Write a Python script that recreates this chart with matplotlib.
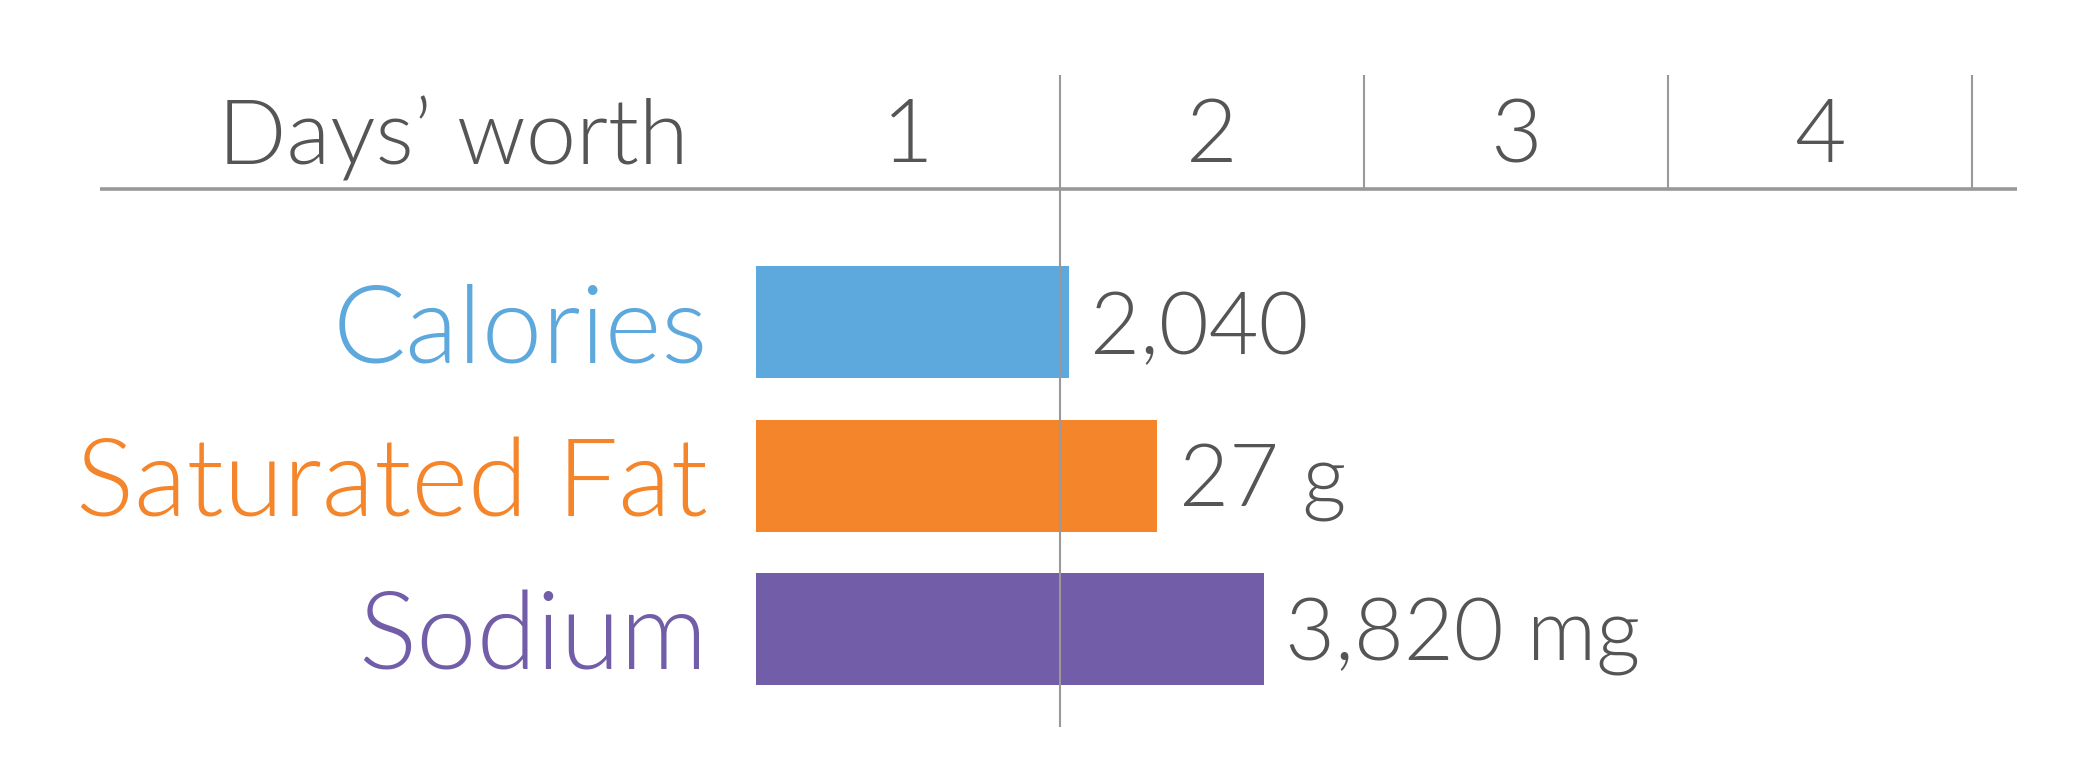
import matplotlib
matplotlib.use("Agg")
import matplotlib.pyplot as plt

# ---- data ----
categories = ["Calories", "Saturated Fat", "Sodium"]
days_worth = [1.03, 1.32, 1.67]
value_labels = ["2,040", "27 g", "3,820 mg"]
bar_colors = ["#5DA8DC", "#F5852A", "#725DA8"]
tick_values = [1, 2, 3, 4]
axis_title = "Days\u2019 worth"

TEXT = "#555555"
GRID = "#999999"
FONT = "Lato"

fig = plt.figure(figsize=(20.88, 7.68), dpi=100)
ax = fig.add_axes([0, 0, 1, 1])
ax.set_axis_off()

unit = 304.0
x0 = 756.0
ax.set_xlim(-x0 / unit, (2088 - x0) / unit)
row0, rstep = 322.0, 153.5
ax.set_ylim((768 - row0) / rstep, -row0 / rstep)

ypos = list(range(len(categories)))
ax.barh(ypos, days_worth, height=112 / rstep, color=bar_colors, left=0, zorder=2)

# header line
y_head = (189 - row0) / rstep
y_top = (76 - row0) / rstep
y_bot = (726 - row0) / rstep
ax.plot([(100 - x0) / unit, (2017 - x0) / unit], [y_head, y_head], color=GRID, lw=2.6, zorder=3,
        solid_capstyle="butt")
for t in tick_values:
    ax.plot([t, t], [y_top, y_bot if t == 1 else y_head], color=GRID, lw=1.5, zorder=3)
    ax.text(t - 0.5, (138 - row0) / rstep, str(t), ha="center", va="center",
            fontsize=64, color=TEXT, family=FONT, fontweight=300)
ax.text((688 - x0) / unit, (138 - row0) / rstep, axis_title, ha="right", va="center",
        fontsize=65, color=TEXT, family=FONT, fontweight=300)

for i, (c, v, lab, col) in enumerate(zip(categories, days_worth, value_labels, bar_colors)):
    ax.text((708 - x0) / unit, i + 0.07, c, ha="right", va="center", fontsize=78, color=col,
            family=FONT, fontweight=300)
    ax.text(v + 0.07, i + 0.05, lab, ha="left", va="center", fontsize=62, color=TEXT,
            family=FONT, fontweight=300)

fig.savefig("out.png", dpi=100, facecolor="white")
